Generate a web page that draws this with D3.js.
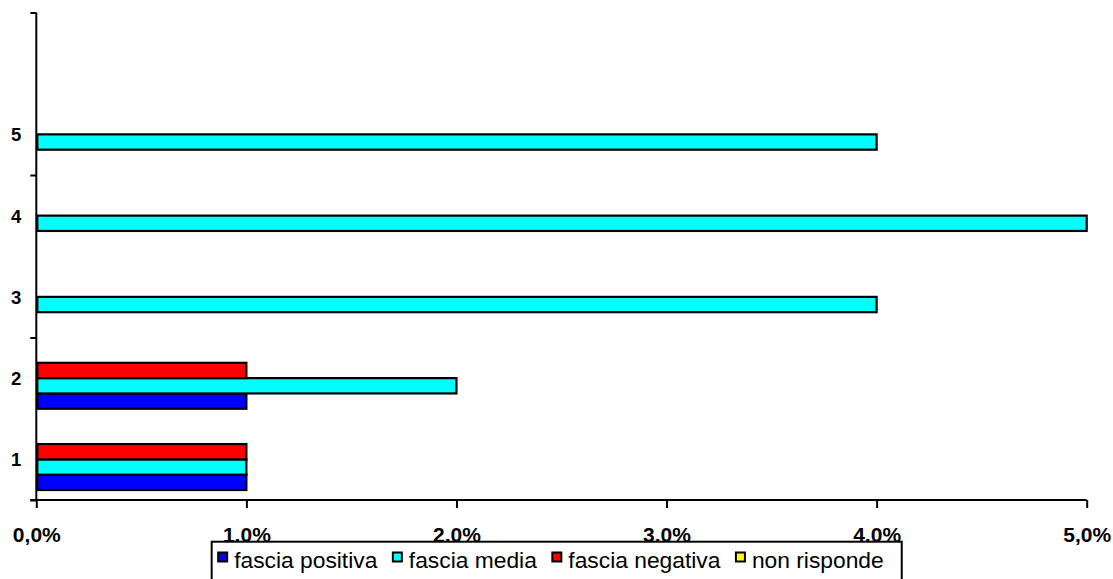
<!DOCTYPE html>
<html>
<head>
<meta charset="utf-8">
<script src="https://cdn.jsdelivr.net/npm/d3@7"></script>
<style>
  html, body { margin: 0; padding: 0; background: #fff; }
  svg { display: block; }
</style>
</head>
<body>
<svg id="chart" width="1113" height="579"></svg>
<script>
// ---- data ----
const categories = ["1", "2", "3", "4", "5", ""];
const seriesNames = ["fascia positiva", "fascia media", "fascia negativa", "non risponde"];
const fasciaPositiva = [0.01, 0.01, 0, 0, 0, 0];
const fasciaMedia    = [0.01, 0.02, 0.04, 0.05, 0.04, 0];
const fasciaNegativa = [0.01, 0.01, 0, 0, 0, 0];
const nonRisponde    = [0, 0, 0, 0, 0, 0];
const seriesColors = ["#0000FF", "#00FFFF", "#FF0000", "#FFFF00"];
const xTickValues = [0, 0.01, 0.02, 0.03, 0.04, 0.05];

const seriesValues = [fasciaPositiva, fasciaMedia, fasciaNegativa, nonRisponde];

// ---- layout ----
const svg = d3.select("#chart");
const plotLeft = 36.3, plotRight = 1086.7, plotTop = 12.5, plotBottom = 500;
const FONT = "'Liberation Sans', Arial, sans-serif";

const it = d3.formatLocale({decimal: ",", thousands: ".", grouping: [3], currency: ["", "€"]});
const pct = it.format(".1%");

const x = d3.scaleLinear().domain([0, 0.05]).range([plotLeft, plotRight]);
const y = d3.scaleBand().domain(categories).range([plotBottom, plotTop])
  .paddingInner(0.246).paddingOuter(0.123);
const ySeries = d3.scaleBand().domain(d3.range(seriesNames.length))
  .range([y.bandwidth(), 0]);
const yLin = d3.scaleLinear().domain([0, categories.length]).range([plotBottom, plotTop]);

// bars
const bars = [];
categories.forEach((c, ci) => {
  seriesValues.forEach((vals, si) => {
    bars.push({cat: c, s: si, v: vals[ci]});
  });
});

svg.append("g").selectAll("rect")
  .data(bars.filter(d => d.v > 0))
  .join("rect")
  .attr("x", x(0) + 1)
  .attr("y", d => y(d.cat) + ySeries(d.s))
  .attr("width", d => x(d.v) - x(0) - 1)
  .attr("height", ySeries.bandwidth())
  .attr("fill", d => seriesColors[d.s])
  .attr("stroke", "#000")
  .attr("stroke-width", 2.2);

// y axis (ticks every two categories, between categories)
const yAxis = svg.append("g").attr("transform", `translate(${plotLeft},0)`)
  .call(d3.axisLeft(yLin).tickValues([0, 2, 4, 6]).tickSize(6).tickFormat(() => ""));
yAxis.select(".domain").attr("stroke", "#000").attr("stroke-width", 2)
  .attr("d", `M0,${plotBottom}V${plotTop}`);
yAxis.selectAll(".tick line").attr("stroke", "#000").attr("stroke-width", 2);

// category labels
const yLab = svg.append("g").attr("transform", `translate(${plotLeft},0)`)
  .call(d3.axisLeft(y).tickSize(0).tickPadding(15));
yLab.select(".domain").remove();
yLab.selectAll("text")
  .attr("font-family", FONT)
  .attr("font-weight", "bold")
  .attr("font-size", 18.5)
  .attr("fill", "#000")
  .attr("dy", "0.38em");

// x axis
const xAxis = svg.append("g").attr("transform", `translate(0,${plotBottom})`)
  .call(d3.axisBottom(x).tickValues(xTickValues).tickSize(8).tickFormat(pct));
xAxis.select(".domain").attr("stroke", "#000").attr("stroke-width", 2)
  .attr("d", `M${plotLeft - 6},0H${plotRight}`);
xAxis.selectAll(".tick line").attr("stroke", "#000").attr("stroke-width", 2);
xAxis.selectAll("text")
  .attr("font-family", FONT)
  .attr("font-weight", "bold")
  .attr("font-size", 21)
  .attr("fill", "#000")
  .attr("y", 42.3)
  .attr("dy", 0);

// legend
const legend = svg.append("g");
const legBox = legend.append("rect")
  .attr("fill", "#fff").attr("stroke", "#000").attr("stroke-width", 2);
const items = legend.append("g");
const sq = 11, gap1 = 6, gap2 = 14.5, padL = 5.5, padR = 18;
let cx = 0;
seriesNames.forEach((name, i) => {
  const g = items.append("g").attr("transform", `translate(${cx},0)`);
  g.append("rect").attr("x", 1).attr("y", 1).attr("width", sq - 2).attr("height", sq - 2)
    .attr("fill", seriesColors[i]).attr("stroke", "#000").attr("stroke-width", 2);
  const t = g.append("text").attr("x", sq + gap1).attr("y", 16.8)
    .attr("font-family", FONT)
    .attr("font-size", 22.8).attr("fill", "#000").text(name);
  const w = t.node().getComputedTextLength();
  cx += sq + gap1 + w + gap2;
});
const contentW = cx - gap2;
const boxW = contentW + padL + padR;
const boxX = 556.7 - boxW / 2;
legBox.attr("x", boxX).attr("y", 541.7).attr("width", boxW).attr("height", 50);
items.attr("transform", `translate(${boxX + padL},551.5)`);
</script>
</body>
</html>
